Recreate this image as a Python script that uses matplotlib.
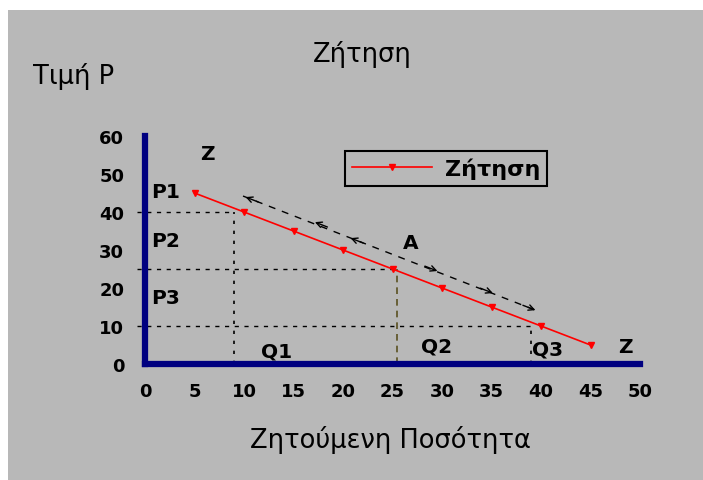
from matplotlib import pyplot as plt
from matplotlib.patches import Rectangle

# demand curve data
quantity = [5, 10, 15, 20, 25, 30, 35, 40, 45]
price = [45, 40, 35, 30, 25, 20, 15, 10, 5]

# guide lines (quantity, price)
guide_q = [9, 25.5, 39]
guide_p = [40, 25, 10]

x_ticks = [0, 5, 10, 15, 20, 25, 30, 35, 40, 45, 50]
y_ticks = [0, 10, 20, 30, 40, 50, 60]

# arrow marks along the dashed movement line
arrow_pts = [(9.9, 44.2), (16.9, 37.6), (20.5, 33.4), (29.8, 24.2), (35.4, 18.4), (39.7, 13.9)]
arrow_dirs = [-1, -1, -1, 1, 1, 1]

gray = '#b8b8b8'
navy = '#000080'

fig = plt.figure(figsize=(7.03, 4.81), dpi=100)
fig.patch.set_facecolor('white')
fig.patches.append(Rectangle((8 / 703, 0), 1, 1 - 11 / 481, transform=fig.transFigure,
                             facecolor=gray, edgecolor='none', zorder=-10))

ax = fig.add_axes([145 / 703, 1 - 365 / 481, 495 / 703, 228 / 481])
ax.set_facecolor(gray)
ax.set_xlim(0, 50)
ax.set_ylim(0, 60)
for s in ['top', 'right']:
    ax.spines[s].set_visible(False)
for s in ['left', 'bottom']:
    ax.spines[s].set_color(navy)
    ax.spines[s].set_linewidth(4.5)
    ax.spines[s].set_zorder(5)
ax.set_xticks(x_ticks)
ax.set_yticks(y_ticks)
ax.tick_params(length=0)
ax.tick_params(axis='y', pad=15)
ax.tick_params(axis='x', pad=13)
for lab in ax.get_xticklabels() + ax.get_yticklabels():
    lab.set_fontweight('bold')
    lab.set_fontsize(13)
    lab.set_fontfamily('DejaVu Sans')
for lab in ax.get_xticklabels():
    lab.set_x(lab.get_position()[0])

# guide lines
for i, (q, p) in enumerate(zip(guide_q, guide_p)):
    ax.plot([-0.8, q], [p, p], color='black', ls=(0, (3, 4)), lw=1, clip_on=False)
    vc = '#5a5020' if i == 1 else 'black'
    vls = (0, (4, 3)) if i == 1 else (0, (2, 4))
    ax.plot([q, q], [0, p], color=vc, ls=vls, lw=1.2)

# demand line
ax.plot(quantity, price, color='red', lw=1.2, marker='v', ms=5, label='Ζήτηση', zorder=4)

# dashed movement line with arrows
ax.plot([arrow_pts[0][0], arrow_pts[-1][0]], [arrow_pts[0][1], arrow_pts[-1][1]],
        color='black', ls=(0, (5, 5)), lw=1)
dx = arrow_pts[-1][0] - arrow_pts[0][0]
dy = arrow_pts[-1][1] - arrow_pts[0][1]
for (x, y), d in zip(arrow_pts, arrow_dirs):
    ax.annotate('', xy=(x, y), xytext=(x - d * dx * 0.06, y - d * dy * 0.06),
                arrowprops=dict(arrowstyle='->', color='black', lw=1))

# labels on the plot
lbl = dict(fontsize=14.5, fontweight='bold', va='center')
ax.text(6.3, 55.3, 'Z', ha='center', **lbl)
ax.text(0.6, 45.3, 'P1', ha='left', **lbl)
ax.text(0.6, 32.4, 'P2', ha='left', **lbl)
ax.text(0.6, 17.6, 'P3', ha='left', **lbl)
ax.text(26.8, 32.1, 'A', ha='center', **lbl)
ax.text(13.3, 3.4, 'Q1', ha='center', **lbl)
ax.text(29.5, 4.7, 'Q2', ha='center', **lbl)
ax.text(40.7, 3.9, 'Q3', ha='center', **lbl)
ax.text(48.5, 4.7, 'Z', ha='center', **lbl)

leg = ax.legend(loc='upper left', bbox_to_anchor=((345 - 145) / 495, (365 - 152) / 228),
                borderaxespad=0, frameon=True, fancybox=False, handlelength=3.6,
                borderpad=0.3, handletextpad=0.6, markerscale=0.8,
                prop={'weight': 'bold', 'size': 16})
leg.get_frame().set_facecolor(gray)
leg.get_frame().set_edgecolor('black')
leg.get_frame().set_linewidth(1.5)
leg.get_frame().set_alpha(1)

fig.text(362 / 703, 1 - 55 / 481, 'Ζήτηση', fontsize=18.5, ha='center', va='center')
fig.text(33 / 703, 1 - 77 / 481, 'Τιμή P', fontsize=18.5, ha='left', va='center')
fig.text(390 / 703, 1 - 440 / 481, 'Ζητούμενη Ποσότητα', fontsize=18.5, ha='center', va='center')

fig.savefig('out.png', dpi=100, facecolor=fig.get_facecolor())
